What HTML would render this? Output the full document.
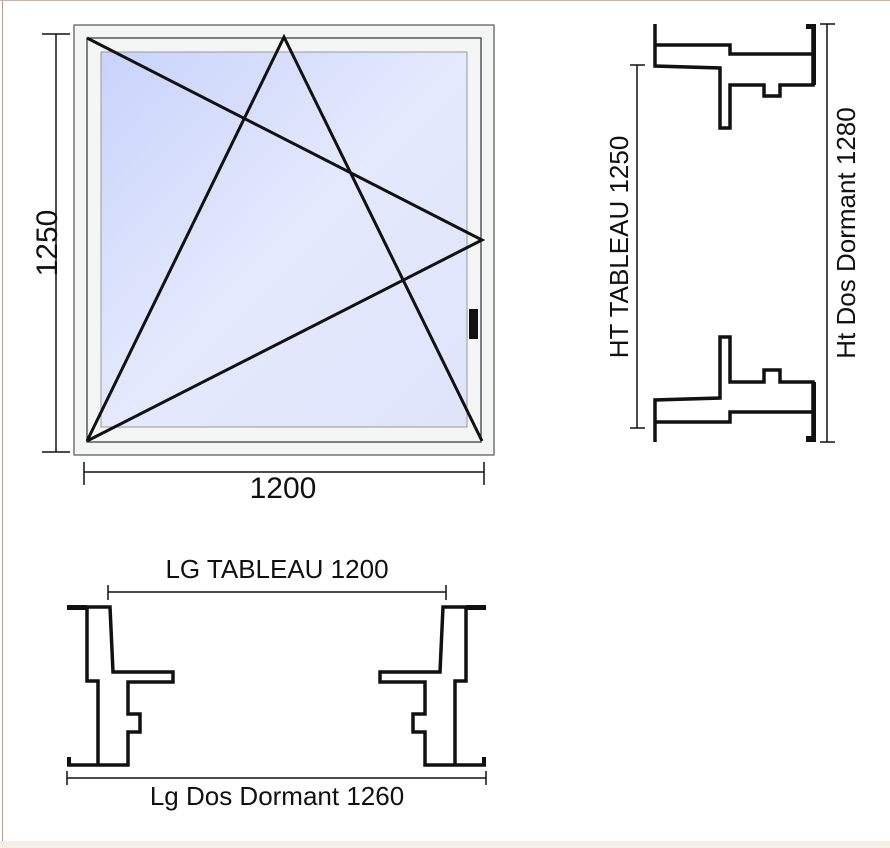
<!DOCTYPE html>
<html><head><meta charset="utf-8"><style>
html,body{margin:0;padding:0;width:890px;height:848px;overflow:hidden;background:#f7efe6}
svg{display:block}
text{font-family:"Liberation Sans",sans-serif;fill:#111}
</style></head><body>
<svg width="890" height="848" viewBox="0 0 890 848" xmlns="http://www.w3.org/2000/svg">
<defs>
<linearGradient id="g" x1="0" y1="0" x2="1" y2="1">
<stop offset="0" stop-color="#c9d3fb"/>
<stop offset="0.5" stop-color="#e4e9fd"/>
<stop offset="1" stop-color="#dfe4fb"/>
</linearGradient>
</defs>
<rect x="0" y="0" width="890" height="841" fill="#fff"/>
<line x1="2.5" y1="0" x2="2.5" y2="841" stroke="#b49c8c" stroke-width="1"/>
<line x1="0" y1="0.5" x2="890" y2="0.5" stroke="#c8b4a8" stroke-width="1"/>

<rect x="74" y="25" width="420" height="430" fill="#f4f5f5" stroke="#777" stroke-width="1.5"/>
<rect x="87" y="38" width="394" height="404" fill="#f4f5f5" stroke="#333" stroke-width="1.2"/>
<rect x="101" y="52" width="366" height="375" fill="url(#g)" stroke="#999" stroke-width="1"/>
<polyline points="87,38 482,240 87,441" fill="none" stroke="#111" stroke-width="3"/>
<polyline points="87,441 284,37 482,441" fill="none" stroke="#111" stroke-width="3"/>
<rect x="469" y="309" width="9" height="30" fill="#111"/>

<g stroke="#111" stroke-width="1.5" fill="none">
<line x1="56" y1="34" x2="56" y2="452"/>
<line x1="42" y1="34" x2="70" y2="34"/>
<line x1="42" y1="452" x2="70" y2="452"/>
<line x1="84" y1="472" x2="484" y2="472"/>
<line x1="84" y1="462" x2="84" y2="485"/>
<line x1="484" y1="462" x2="484" y2="485"/>
</g>
<text x="283" y="498" font-size="30" text-anchor="middle">1200</text>
<text transform="translate(57,243) rotate(-90)" font-size="30" text-anchor="middle">1250</text>

<g stroke="#111" stroke-width="3.5" fill="none" stroke-linejoin="miter">
<polyline points="655,24 655,66 720,68 720,128 730,128 730,85 764,85 764,96 780,96 780,85 813,85 813,24"/>
<polyline points="655,45 730,45 730,54 813,54"/>
<polyline points="655,442 655,400 720,398 720,337 730,337 730,382 764,382 764,370 780,370 780,382 813,382 813,442"/>
<polyline points="655,422 730,422 730,412 813,412"/>
</g>
<rect x="806" y="24" width="8" height="5" fill="#111"/>
<rect x="806" y="436" width="8" height="6" fill="#111"/>
<line x1="815" y1="24" x2="815" y2="85" stroke="#111" stroke-width="2"/>
<line x1="815" y1="382" x2="815" y2="442" stroke="#111" stroke-width="2"/>
<g stroke="#111" stroke-width="1.5">
<line x1="637" y1="65" x2="637" y2="428"/>
<line x1="630" y1="65" x2="645" y2="65"/>
<line x1="630" y1="428" x2="645" y2="428"/>
<line x1="827" y1="24" x2="827" y2="442"/>
<line x1="820" y1="24" x2="835" y2="24"/>
<line x1="820" y1="442" x2="835" y2="442"/>
</g>
<text transform="translate(628,247) rotate(-90)" font-size="26" text-anchor="middle">HT TABLEAU 1250</text>
<text transform="translate(855,233) rotate(-90)" font-size="26" text-anchor="middle">Ht Dos Dormant 1280</text>

<g stroke="#111" stroke-width="3.5" fill="none">
<polyline points="67,607 110,607 113,672 173,672 173,682 128,682 128,714 140,714 140,732 128,732 128,765 67,765"/>
<polyline points="87,607 87,681 98,681 98,765"/>
<polyline points="486,607 443,607 440,672 380,672 380,682 425,682 425,714 413,714 413,732 425,732 425,765 486,765"/>
<polyline points="466,607 466,681 455,681 455,765"/>
</g>
<rect x="67" y="605" width="20" height="5" fill="#111"/>
<rect x="466" y="605" width="20" height="5" fill="#111"/>
<rect x="67" y="757" width="4" height="8" fill="#111"/>
<rect x="482" y="757" width="4" height="8" fill="#111"/>
<g stroke="#111" stroke-width="1.5">
<line x1="108" y1="592" x2="446" y2="592"/>
<line x1="108" y1="585" x2="108" y2="600"/>
<line x1="446" y1="585" x2="446" y2="600"/>
<line x1="67" y1="778" x2="486" y2="778"/>
<line x1="67" y1="771" x2="67" y2="785"/>
<line x1="486" y1="771" x2="486" y2="785"/>
</g>
<text x="277" y="578" font-size="26" text-anchor="middle">LG TABLEAU 1200</text>
<text x="277" y="805" font-size="26" text-anchor="middle">Lg Dos Dormant 1260</text>
</svg>
</body></html>
